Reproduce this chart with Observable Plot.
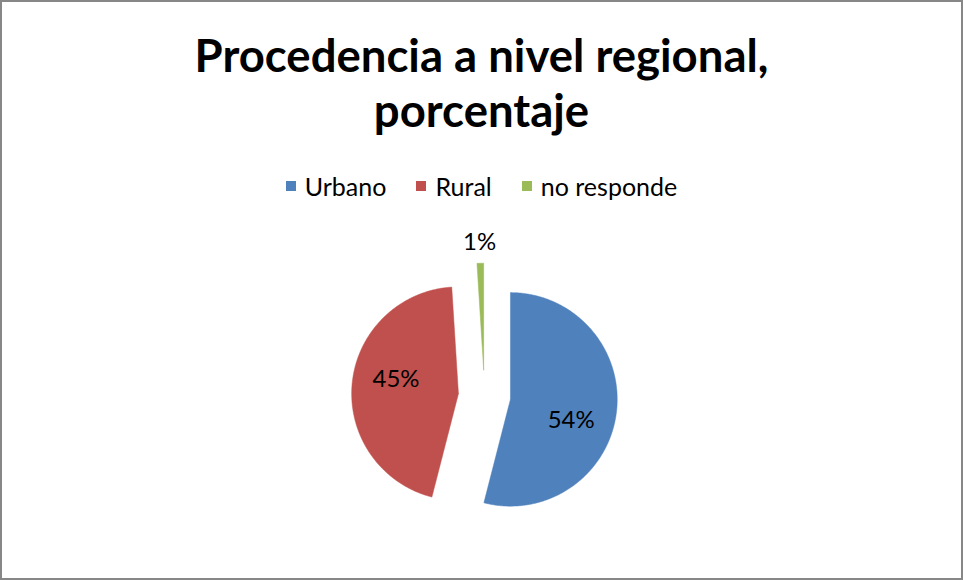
<!DOCTYPE html>
<html>
<head>
<meta charset="utf-8">
<script src="https://cdn.jsdelivr.net/npm/d3@7"></script>
<script src="https://cdn.jsdelivr.net/npm/@observablehq/plot@0.6"></script>
<style>
  html, body { margin: 0; padding: 0; background: #fff; }
  #frame { position: relative; width: 963px; height: 580px; box-sizing: border-box; border: 2px solid #878787; background: #fff; overflow: hidden; font-family: Lato, "Open Sans", sans-serif; }
  #title { position: absolute; left: 0; right: 0; top: 25px; text-align: center; font-family: Lato, sans-serif; font-weight: bold; font-size: 45.5px; line-height: 55px; color: #000; }
  #legend { position: absolute; left: 0; right: 0; top: 169px; display: flex; justify-content: center; gap: 30px; font-size: 25px; line-height: 30px; color: #000; }
  #legend .item { display: flex; align-items: center; gap: 9px; }
  #legend .sw { width: 10px; height: 10px; display: inline-block; }
  #chart { position: absolute; left: -2px; top: 208px; }
</style>
</head>
<body>
<div id="frame">
  <div id="title">Procedencia a nivel regional,<br>porcentaje</div>
  <div id="legend"></div>
  <div id="chart"></div>
</div>
<script>
const categories = ["Urbano", "Rural", "no responde"];
const values = [54, 45, 1];
const labels = ["54%", "45%", "1%"];
const colors = ["#4F81BD", "#C0504D", "#9BBB59"];

// layout constants (pixels)
const W = 963, H = 370, R = 107, CX = 485, CY = 186;
const explode = 0.245;        // fraction of radius
const labelRadius = [0.6, 0.6, 1.2];
const labelShift = [0.2, 0.13, 0];  // radians clockwise

const total = d3.sum(values);
let cum = 0;
const slices = categories.map((name, i) => {
  const a0 = cum / total * 2 * Math.PI;
  cum += values[i];
  const a1 = cum / total * 2 * Math.PI;
  const mid = (a0 + a1) / 2;
  const dx = explode * Math.sin(mid), dy = explode * Math.cos(mid);
  const n = Math.max(2, Math.ceil((a1 - a0) / (Math.PI / 360)));
  const pts = [{x: dx, y: dy}];
  for (let k = 0; k <= n; k++) {
    const t = a0 + (a1 - a0) * k / n;
    pts.push({x: dx + Math.sin(t), y: dy + Math.cos(t)});
  }
  pts.push({x: dx, y: dy});
  const la = mid + labelShift[i];
  const lr = labelRadius[i];
  return {name, color: colors[i], pts, label: labels[i], lx: dx + lr * Math.sin(la), ly: dy + lr * Math.cos(la)};
});

// legend
const legend = document.getElementById("legend");
categories.forEach((c, i) => {
  const it = document.createElement("div");
  it.className = "item";
  it.innerHTML = `<span class="sw" style="background:${colors[i]}"></span><span>${c}</span>`;
  legend.appendChild(it);
});

const chart = Plot.plot({
  width: W,
  height: H,
  margin: 0,
  style: {background: "transparent", fontFamily: "Lato, sans-serif"},
  x: {domain: [-CX / R, (W - CX) / R], axis: null},
  y: {domain: [-(H - CY) / R, CY / R], axis: null},
  marks: [
    ...slices.map(s => Plot.line(s.pts, {x: "x", y: "y", fill: s.color, stroke: s.color, strokeWidth: 0.5, curve: "linear"})),
    Plot.text(slices, {x: "lx", y: "ly", text: "label", fontSize: 24, fill: "#000"})
  ]
});
document.getElementById("chart").appendChild(chart);
</script>
</body>
</html>
